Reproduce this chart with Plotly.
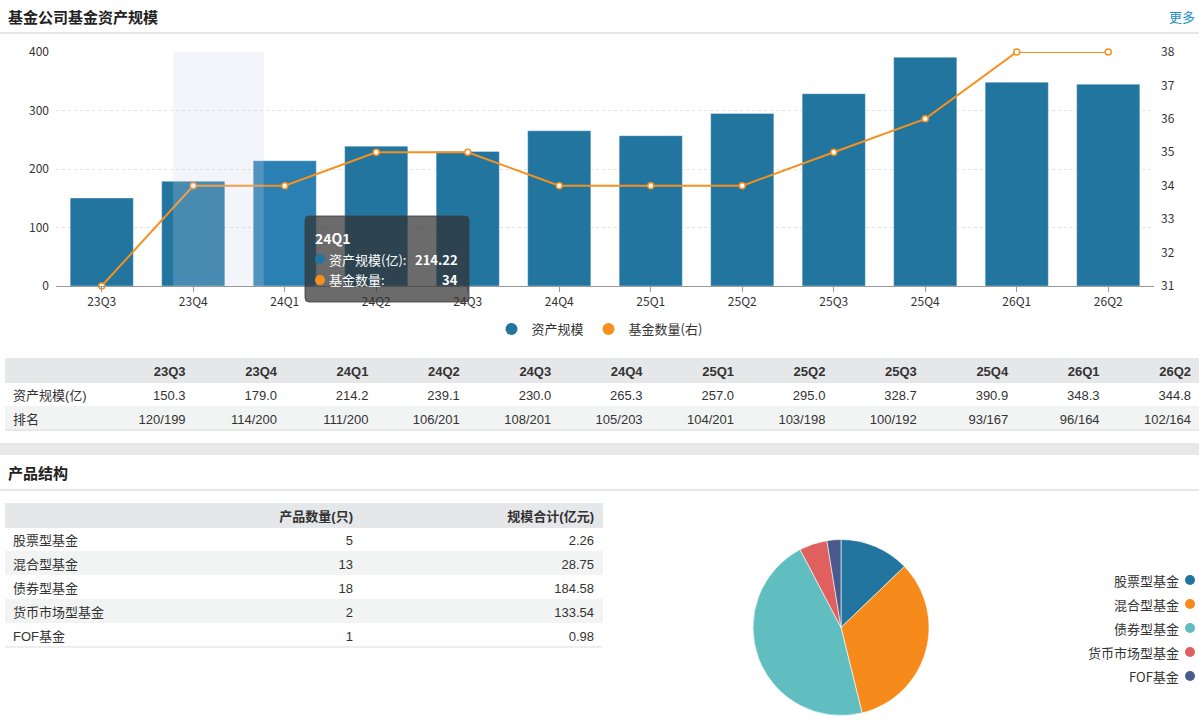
import plotly.graph_objects as go

# 资产规模 data
quarters = ["23Q3", "23Q4", "24Q1", "24Q2", "24Q3", "24Q4",
            "25Q1", "25Q2", "25Q3", "25Q4", "26Q1", "26Q2"]
assets = [150.3, 179.0, 214.22, 239.1, 230.0, 265.3,
          257.0, 295.0, 328.7, 390.9, 348.3, 344.8]
fund_counts = [31, 34, 34, 35, 35, 34, 34, 34, 35, 36, 38, 38]
ranks = ["120/199", "114/200", "111/200", "106/201", "108/201", "105/203",
         "104/201", "103/198", "100/192", "93/167", "96/164", "102/164"]

# 产品结构 data
product_types = ["股票型基金", "混合型基金", "债券型基金", "货币市场型基金", "FOF基金"]
product_counts = [5, 13, 18, 2, 1]
product_scale = [2.26, 28.75, 184.58, 133.54, 0.98]

W, H = 1199, 720
BLUE = "#22759f"
ORANGE = "#f7901e"
pie_colors = ["#22759f", "#f68b1b", "#60bec0", "#e05f5f", "#4a5a8c"]
CJK = "Microsoft YaHei, Noto Sans CJK SC, sans-serif"
TBL = "Arial, Liberation Sans, Noto Sans CJK SC, sans-serif"
hover_idx = 2  # tooltip shown for 24Q1


def px(x):
    return x / W


def py(y):
    return 1 - y / H


fig = go.Figure()

bar_colors = [BLUE] * len(quarters)
bar_colors[hover_idx] = "#2a80b2"
fig.add_trace(go.Bar(
    x=quarters, y=assets, name="资产规模", showlegend=False,
    marker=dict(color=bar_colors, line=dict(color="rgba(255,255,255,0.35)", width=1)),
    width=0.69, hoverinfo="skip",
))
fig.add_trace(go.Scatter(
    x=quarters, y=fund_counts, yaxis="y2", name="基金数量(右)", showlegend=False,
    mode="lines+markers", line=dict(color=ORANGE, width=2), cliponaxis=False,
    marker=dict(symbol="circle", size=6, color="white", line=dict(color=ORANGE, width=1.5)),
    hoverinfo="skip",
))
# legend entries with round symbols
for nm, col in [("资产规模", BLUE), ("基金数量(右)", ORANGE)]:
    fig.add_trace(go.Scatter(x=[None], y=[None], mode="markers", name=nm,
                             marker=dict(color=col, size=10), showlegend=True))

# pie
fig.add_trace(go.Pie(
    labels=product_types, values=product_counts, sort=False, direction="clockwise",
    marker=dict(colors=pie_colors, line=dict(color="white", width=0.6)),
    textinfo="none", showlegend=False, hoverinfo="skip",
    domain=dict(x=[px(753), px(929)], y=[py(716), py(539)]),
))

# tables
hdr_fill = "#e6e7e9"
row_fills = ["white", "#f2f3f3"]
hdr_font = dict(family=TBL, size=13, color="#333", weight="bold")
cell_font = dict(family=TBL, size=13, color="#333")
fig.add_trace(go.Table(
    domain=dict(x=[px(5), 1], y=[py(440), py(358)]),
    columnwidth=[97.2] + [91.4] * len(quarters),
    header=dict(values=[" "] + quarters,
                fill_color=hdr_fill, line=dict(color=hdr_fill, width=1),
                align=["left"] + ["right"] * len(quarters), height=24, font=hdr_font),
    cells=dict(values=[["资产规模(亿)", "排名"]] +
                      [["%.1f" % a, r] for a, r in zip(assets, ranks)],
               fill_color=[row_fills] * (len(quarters) + 1),
               line=dict(color=[row_fills] * (len(quarters) + 1), width=1),
               align=["left"] + ["right"] * len(quarters), height=24, font=cell_font),
))
t2_fills = [row_fills[i % 2] for i in range(len(product_types))]
fig.add_trace(go.Table(
    domain=dict(x=[px(5), px(602)], y=[py(660), py(503)]),
    columnwidth=[236, 120, 241],
    header=dict(values=[" ", "产品数量(只)", "规模合计(亿元)"],
                fill_color=hdr_fill, line=dict(color=hdr_fill, width=1),
                align=["left", "right", "right"], height=24, font=hdr_font),
    cells=dict(values=[product_types, [str(c) for c in product_counts],
                       ["%.2f" % s for s in product_scale]],
               fill_color=[t2_fills] * 3, line=dict(color=[t2_fills] * 3, width=1),
               align=["left", "right", "right"], height=24, font=cell_font),
))

shapes = [
    # header separators
    dict(type="line", xref="paper", yref="paper", x0=0, x1=1, y0=py(33), y1=py(33),
         line=dict(color="#cccccc", width=1)),
    dict(type="rect", xref="paper", yref="paper", x0=0, x1=1, y0=py(455), y1=py(443),
         fillcolor="#e8e8e8", line=dict(width=0)),
    dict(type="line", xref="paper", yref="paper", x0=0, x1=1, y0=py(490), y1=py(490),
         line=dict(color="#cccccc", width=1)),
    dict(type="line", xref="paper", yref="paper", x0=px(5), x1=1, y0=py(430), y1=py(430),
         line=dict(color="#dddddd", width=1)),
    dict(type="line", xref="paper", yref="paper", x0=px(5), x1=px(602), y0=py(647), y1=py(647),
         line=dict(color="#dddddd", width=1)),
    # axis pointer shadow
    dict(type="rect", xref="x", yref="y domain", x0=0.78, x1=1.77, y0=0, y1=1,
         fillcolor="rgba(205,212,232,0.23)", line=dict(width=0), layer="above"),
]

# tooltip box (rounded)
tx0, ty0, tx1, ty1, r = 305, 216, 469, 302, 4
path = ("M {a},{b} L {c},{b} Q {x1},{b} {x1},{d} L {x1},{e} Q {x1},{y1} {c},{y1} "
        "L {a},{y1} Q {x0},{y1} {x0},{e} L {x0},{d} Q {x0},{b} {a},{b} Z").format(
    a=px(tx0 + r), c=px(tx1 - r), b=py(ty0), d=py(ty0 + r), e=py(ty1 - r),
    x0=px(tx0), x1=px(tx1), y1=py(ty1))
shapes.append(dict(type="path", xref="paper", yref="paper", path=path,
                   fillcolor="rgba(50,50,50,0.72)", line=dict(color="rgba(60,60,60,0.8)", width=1),
                   layer="above"))
# tooltip dots
for yy, col in [(259, BLUE), (280, ORANGE)]:
    shapes.append(dict(type="circle", xref="paper", yref="paper",
                       x0=px(315), x1=px(325), y0=py(yy + 5), y1=py(yy - 5),
                       fillcolor=col, line=dict(width=0), layer="above"))

# custom pie legend (text left of symbol)
annotations = []
for i, (nm, col) in enumerate(zip(product_types, pie_colors)):
    yy = 580 + 24 * i
    shapes.append(dict(type="circle", xref="paper", yref="paper",
                       x0=px(1185), x1=px(1195), y0=py(yy + 5), y1=py(yy - 5),
                       fillcolor=col, line=dict(width=0)))
    annotations.append(dict(x=px(1181), y=py(yy), xref="paper", yref="paper", text=nm,
                            showarrow=False, xanchor="right", yanchor="middle",
                            font=dict(family=CJK, size=13, color="#333")))

annotations += [
    dict(x=px(6), y=py(16), xref="paper", yref="paper", text="<b>基金公司基金资产规模</b>",
         showarrow=False, xanchor="left", yanchor="middle",
         font=dict(family=CJK, size=15, color="#222")),
    dict(x=px(1197), y=py(16), xref="paper", yref="paper", text="更多",
         showarrow=False, xanchor="right", yanchor="middle",
         font=dict(family=CJK, size=13, color="#1a8fc5")),
    dict(x=px(6), y=py(472), xref="paper", yref="paper", text="<b>产品结构</b>",
         showarrow=False, xanchor="left", yanchor="middle",
         font=dict(family=CJK, size=15, color="#222")),
    # tooltip text
    dict(x=px(313), y=py(238), xref="paper", yref="paper", text="<b>%s</b>" % quarters[hover_idx],
         showarrow=False, xanchor="left", yanchor="middle",
         font=dict(family=CJK, size=14, color="white")),
    dict(x=px(327), y=py(259), xref="paper", yref="paper", text="资产规模(亿):",
         showarrow=False, xanchor="left", yanchor="middle",
         font=dict(family=CJK, size=13, color="white")),
    dict(x=px(460), y=py(259), xref="paper", yref="paper", text="<b>%.2f</b>" % assets[hover_idx],
         showarrow=False, xanchor="right", yanchor="middle",
         font=dict(family=CJK, size=13, color="white")),
    dict(x=px(327), y=py(280), xref="paper", yref="paper", text="基金数量:",
         showarrow=False, xanchor="left", yanchor="middle",
         font=dict(family=CJK, size=13, color="white")),
    dict(x=px(460), y=py(280), xref="paper", yref="paper", text="<b>%d</b>" % fund_counts[hover_idx],
         showarrow=False, xanchor="right", yanchor="middle",
         font=dict(family=CJK, size=13, color="white")),
]

fig.update_layout(
    width=W, height=H, margin=dict(l=0, r=0, t=0, b=0, autoexpand=False),
    paper_bgcolor="white", plot_bgcolor="white",
    font=dict(family=CJK, size=12, color="#333"),
    bargap=0.31,
    xaxis=dict(domain=[px(56), px(1154)], type="category", range=[-0.5, len(quarters) - 0.5],
               showline=True, linecolor="#999", linewidth=1, ticks="outside", ticklen=5,
               tickcolor="#999", showgrid=False, tickfont=dict(size=12, color="#333"),
               anchor="y"),
    yaxis=dict(domain=[py(286), py(52)], range=[0, 400], dtick=100, showgrid=True,
               gridcolor="#e2e2e2", griddash="dot", zeroline=False, showline=False,
               tickfont=dict(size=12, color="#333"), ticks="", ticklabelstandoff=6),
    yaxis2=dict(overlaying="y", side="right", range=[31, 38], dtick=1, showgrid=False,
                zeroline=False, showline=False, tickfont=dict(size=12, color="#333"),
                anchor="x", ticklabelstandoff=6),
    legend=dict(orientation="h", x=0.5, xanchor="center", y=py(329), yanchor="middle",
                font=dict(family=CJK, size=13, color="#333"), itemsizing="constant",
                itemwidth=30, bgcolor="rgba(0,0,0,0)"),
    shapes=shapes, annotations=annotations,
)

fig.write_html("out.html", config={"displayModeBar": False},
               post_script="document.body.style.margin='0';"
                           "document.body.style.overflow='hidden';")
